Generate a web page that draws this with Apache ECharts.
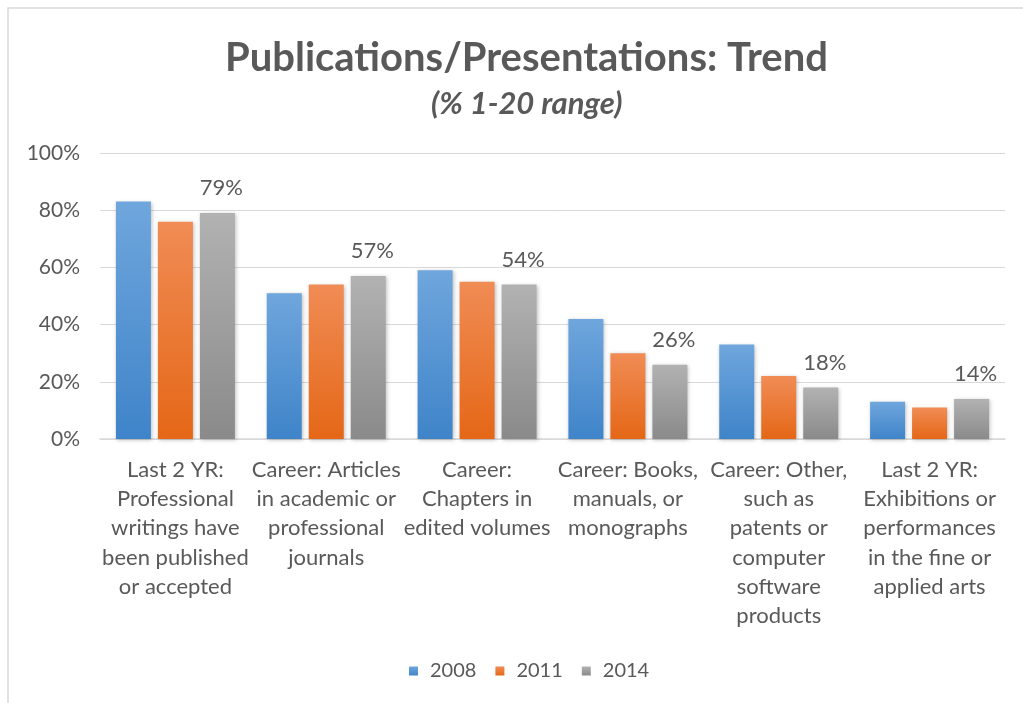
<!DOCTYPE html>
<html>
<head>
<meta charset="utf-8">
<script src="https://cdn.jsdelivr.net/npm/echarts@6/dist/echarts.min.js"></script>
<style>
    html, body { margin: 0; padding: 0; background: #fff; }
    #chart { width: 1023px; height: 703px; }
</style>
</head>
<body>
<div id="chart"></div>
<script>
// categories and values
var categories = [
    'Last 2 YR:\nProfessional\nwritings have\nbeen published\nor accepted',
    'Career: Articles\nin academic or\nprofessional\njournals',
    'Career:\nChapters in\nedited volumes',
    'Career: Books,\nmanuals, or\nmonographs',
    'Career: Other,\nsuch as\npatents or\ncomputer\nsoftware\nproducts',
    'Last 2 YR:\nExhibitions or\nperformances\nin the fine or\napplied arts'
];
var seriesNames = ['2008', '2011', '2014'];
var data2008 = [83, 51, 59, 42, 33, 13];
var data2011 = [76, 54, 55, 30, 22, 11];
var data2014 = [79, 57, 54, 26, 18, 14];
var yTicks = [0, 20, 40, 60, 80, 100];

var font = 'Lato, "Open Sans", sans-serif';
var txt = '#595959';

function grad(top, bottom) {
    return new echarts.graphic.LinearGradient(0, 0, 0, 1, [
        {offset: 0, color: top},
        {offset: 1, color: bottom}
    ]);
}
var shadow = {shadowColor: 'rgba(0,0,0,0.25)', shadowBlur: 4, shadowOffsetX: 1, shadowOffsetY: 1};

var chart = echarts.init(document.getElementById('chart'));
var option = {
    backgroundColor: '#fff',
    animation: false,
    color: ['#5b9bd5', '#ed7d31', '#a5a5a5'],   // legend swatches
    title: [
        {
            text: 'Publications/Presentations: Trend',
            left: 220,
            top: 33,
            textStyle: {fontFamily: font, fontSize: 40, fontWeight: 'bold', color: txt}
        },
        {
            text: '(% 1-20 range)',
            left: 426,
            top: 83,
            textStyle: {fontFamily: font, fontSize: 31, fontWeight: 'bold', fontStyle: 'italic', color: txt}
        }
    ],
    legend: {
        bottom: 17,
        left: 404,
        itemWidth: 9,
        itemHeight: 9,
        itemGap: 19,
        icon: 'rect',
        textStyle: {fontFamily: font, fontSize: 20, color: txt, padding: [0, 0, 0, 7]},
        data: seriesNames
    },
    grid: {left: 100, right: 18, top: 153, bottom: 264},
    xAxis: {
        type: 'category',
        data: categories,
        axisLine: {lineStyle: {color: '#d9d9d9', width: 1.5}},
        axisTick: {show: false},
        axisLabel: {
            fontFamily: font, fontSize: 22, color: txt,
            lineHeight: 29.3, margin: 16, interval: 0, align: 'center'
        }
    },
    yAxis: {
        type: 'value',
        min: 0,
        max: 100,
        interval: 20,
        axisLine: {show: false},
        axisTick: {show: false},
        splitLine: {lineStyle: {color: '#d9d9d9'}},
        axisLabel: {
            fontFamily: font, fontSize: 21, color: txt, margin: 20,
            formatter: function (v) { return yTicks.indexOf(v) >= 0 ? v + '%' : ''; }
        }
    },
    series: [
        {
            name: seriesNames[0],
            type: 'bar',
            data: data2008,
            barWidth: 35,
            barGap: '20%',
            itemStyle: Object.assign({color: grad('#6fa6dd', '#3f84c9')}, shadow)
        },
        {
            name: seriesNames[1],
            type: 'bar',
            data: data2011,
            barWidth: 35,
            barGap: '20%',
            itemStyle: Object.assign({color: grad('#f08c55', '#e56717')}, shadow)
        },
        {
            name: seriesNames[2],
            type: 'bar',
            data: data2014,
            barWidth: 35,
            barGap: '20%',
            itemStyle: Object.assign({color: grad('#b2b2b2', '#8a8a8a')}, shadow),
            label: {
                show: true,
                position: 'top',
                distance: 14,
                offset: [4, 0],
                formatter: '{c}%',
                fontFamily: font, fontSize: 22, color: txt
            }
        }
    ],
    graphic: [
        // only the top and left edges of the frame are visible
        {
            type: 'polyline',
            shape: {points: [[8, 703], [8, 8], [1023, 8]]},
            style: {fill: 'none', stroke: '#d9d9d9', lineWidth: 1.5},
            silent: true
        }
    ]
};
chart.setOption(option);
</script>
</body>
</html>
